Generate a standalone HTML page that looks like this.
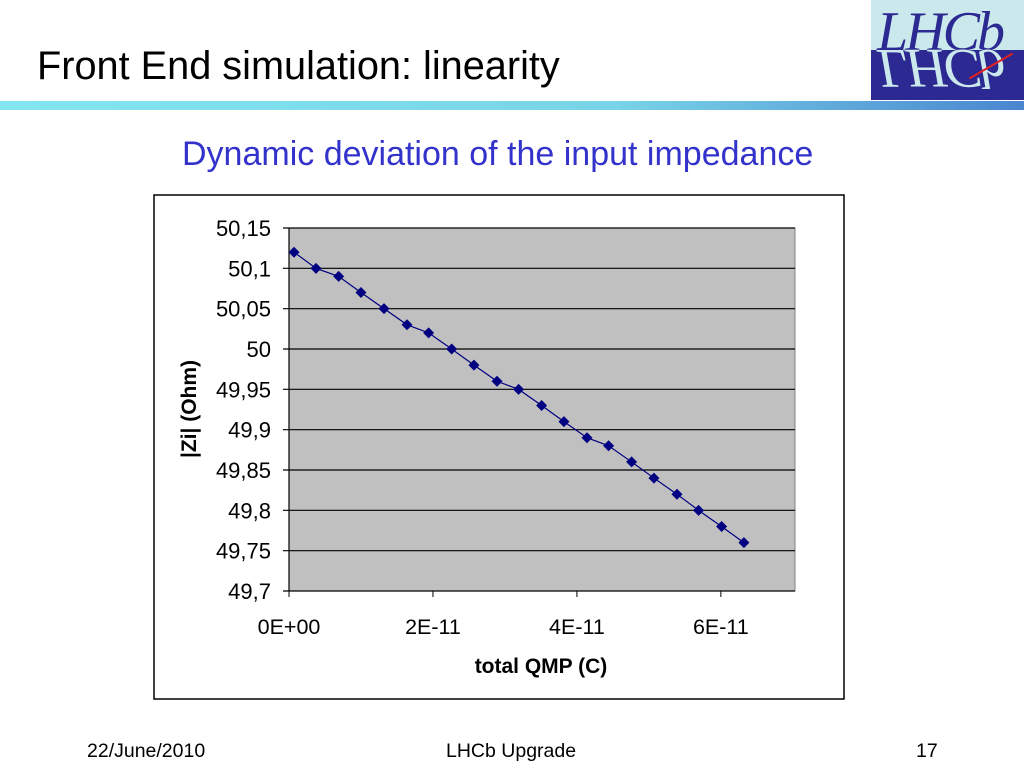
<!DOCTYPE html>
<html><head><meta charset="utf-8"><style>
body{margin:0;width:1024px;height:768px;background:#fff;position:relative;overflow:hidden;font-family:"Liberation Sans",sans-serif}
.abs{position:absolute}
</style></head><body>
<div class="abs" style="left:37px;top:44px;font-size:39.7px;color:#000;white-space:nowrap">Front End simulation: linearity</div>
<div class="abs" style="left:0;top:101px;width:1024px;height:9px;background:linear-gradient(to right,#82e6f0,#78d4e8 60%,#4a86d0)"></div>
<div class="abs" style="left:871px;top:0;width:153px;height:100px;overflow:hidden">
 <div style="position:absolute;left:0;top:0;width:153px;height:50px;background:#cbe9ec"></div>
 <div style="position:absolute;left:0;top:50px;width:153px;height:50px;background:#2c2a92"></div>
 <div style="position:absolute;left:6px;top:0px;font:italic 56px 'Liberation Serif',serif;color:#2c2a92;letter-spacing:-3px">LHCb</div>
 <div style="position:absolute;left:6px;top:36px;font:italic 56px 'Liberation Serif',serif;color:#cbe9ec;transform:scaleY(-1);letter-spacing:-3px">LHCb</div>
 <div style="position:absolute;left:95px;top:65px;width:50px;height:2px;background:#e02020;transform:rotate(-30deg)"></div>
</div>
<div class="abs" style="left:182px;top:135px;font-size:34px;color:#3333cc;white-space:nowrap">Dynamic deviation of the input impedance</div>
<svg class="abs" style="left:0;top:0" width="1024" height="768">
<rect x="154" y="195" width="690" height="504" fill="#fff" stroke="#000" stroke-width="1.5"/>
<g id="g"></g>
</svg>
<div class="abs" style="left:87px;top:740px;font-size:19.5px">22/June/2010</div>
<div class="abs" style="left:446px;top:740px;font-size:19.5px">LHCb Upgrade</div>
<div class="abs" style="left:916px;top:740px;font-size:19.5px">17</div>
<script>
const xVals=[0.07,0.375,0.69,1.0,1.32,1.64,1.94,2.26,2.57,2.89,3.19,3.51,3.82,4.14,4.44,4.76,5.07,5.39,5.69,6.01,6.32];
const yVals=[50.12,50.10,50.09,50.07,50.05,50.03,50.02,50.00,49.98,49.96,49.95,49.93,49.91,49.89,49.88,49.86,49.84,49.82,49.80,49.78,49.76];
const yTicks=[49.7,49.75,49.8,49.85,49.9,49.95,50,50.05,50.1,50.15];
const yTickLabels=["49,7","49,75","49,8","49,85","49,9","49,95","50","50,05","50,1","50,15"];
const xTicks=[0,2,4,6];
const xTickLabels=["0E+00","2E-11","4E-11","6E-11"];
const NS="http://www.w3.org/2000/svg",g=document.getElementById('g');
const X0=289,X1=795,Y0=591,Y1=228,xmax=7.03,ymin=49.7,ymax=50.15;
const sx=v=>X0+v/xmax*(X1-X0), sy=v=>Y0-(v-ymin)/(ymax-ymin)*(Y0-Y1);
function mk(t,a,txt){const e=document.createElementNS(NS,t);for(const k in a)e.setAttribute(k,a[k]);if(txt!=null)e.textContent=txt;g.appendChild(e);return e;}
let e=mk('rect',{x:X0,y:Y1,width:X1-X0,height:Y0-Y1,fill:'#c0c0c0',stroke:'#808080'});


yTicks.forEach((v,i)=>{const y=sy(v);
 let l=mk('line',{x1:X0-6,x2:X1,y1:y,y2:y,stroke:'#000','stroke-width':1.2});
 
 
 let t=mk('text',{x:271,y:y+8,'text-anchor':'end','font-size':22,'font-family':'Liberation Sans'},yTickLabels[i]);
 
 
});
mk('line',{x1:X0,x2:X0,y1:Y1,y2:Y0,stroke:'#000','stroke-width':1.2});
xTicks.forEach((v,i)=>{const x=sx(v);
 mk('line',{x1:x,x2:x,y1:Y0,y2:Y0+6,stroke:'#000'});
 let t=mk('text',{x:x,y:634,'text-anchor':'middle','font-size':21.5,'font-family':'Liberation Sans'},xTickLabels[i]);
 
 
});
let p=mk('polyline',{points:xVals.map((v,i)=>sx(v)+','+sy(yVals[i])).join(' '),fill:'none',stroke:'#000080','stroke-width':1.2});


xVals.forEach((v,i)=>{const x=sx(v),y=sy(yVals[i]);
 let m=mk('polygon',{points:`${x},${y-5.5} ${x+5.5},${y} ${x},${y+5.5} ${x-5.5},${y}`,fill:'#000080'});
 
 
});
let xt=mk('text',{x:541,y:673,'text-anchor':'middle','font-size':21,'font-weight':'bold','font-family':'Liberation Sans'},'total QMP (C)');


let yt=mk('text',{x:0,y:0,'text-anchor':'middle','font-size':21,'font-weight':'bold','font-family':'Liberation Sans',transform:'translate(196,409) rotate(-90)'},'|Zi| (Ohm)');


</script>
</body></html>
